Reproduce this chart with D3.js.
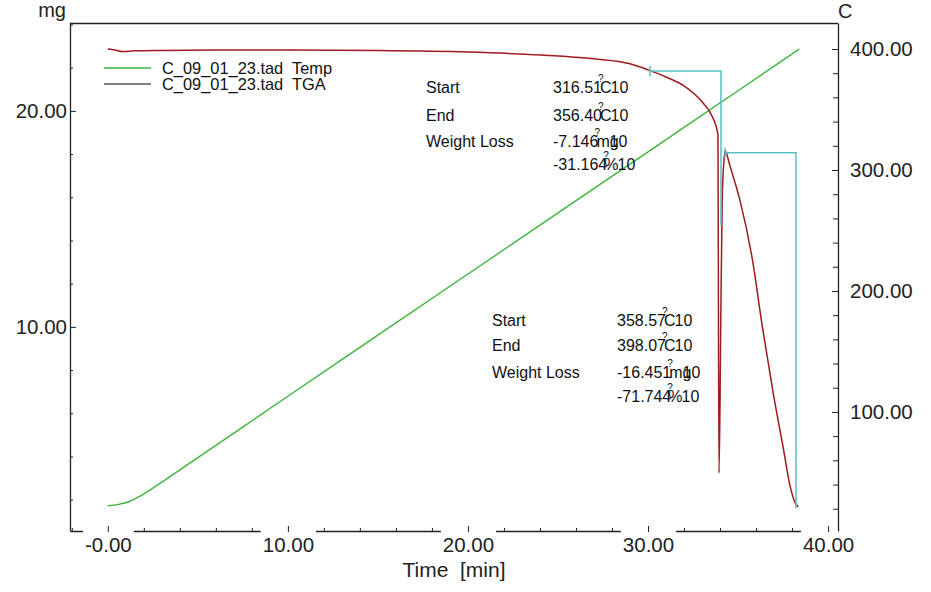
<!DOCTYPE html>
<html>
<head>
<meta charset="utf-8">
<script src="https://cdn.jsdelivr.net/npm/d3@7"></script>
<style>
body { margin: 0; background: #fff; }
svg { display: block; font-family: "Liberation Sans", Arial, sans-serif; }
text { white-space: pre; }
</style>
</head>
<body>
<svg id="chart" width="931" height="592"></svg>
<script>
// tick values + labels
var timeTicks = [0, 10, 20, 30, 40];
var timeTickLabels = ["-0.00", "10.00", "20.00", "30.00", "40.00"];
var massTicks = [10, 20];
var massTickLabels = ["10.00", "20.00"];
var tempTicks = [100, 200, 300, 400];
var tempTickLabels = ["100.00", "200.00", "300.00", "400.00"];

// Temp curve (min, C)
var tempTime = [0, 0.6, 1.2, 1.8, 2.4, 3, 5, 10, 15, 20, 25, 30, 35, 38.4];
var tempValues = [22.5, 23.6, 26, 30.5, 36, 42, 62.2, 113, 163.5, 214, 264.5, 315, 365.5, 400];

// TGA curve (min, mg)
var tgaTime = [0, 0.4, 0.8, 1.5, 3, 6, 10, 15, 20, 24, 27, 29, 30, 31, 32, 33, 33.6, 33.88,
  33.94, 34.0, 34.05, 34.12, 34.22, 34.28, 34.55, 35.1, 35.8, 36.35, 36.95, 37.5, 37.9, 38.17, 38.35];
var tgaValues = [22.87, 22.82, 22.75, 22.78, 22.80, 22.82, 22.82, 22.80, 22.73, 22.59, 22.41, 22.18, 21.90, 21.57, 21.16, 20.42, 19.68, 18.94,
  3.24, 6.62, 11.25, 15.88, 17.73, 18.15, 17.45, 15.88, 13.10, 10.0, 6.94, 4.44, 2.59, 1.85, 1.67];

var legendLabels = ["C_09_01_23.tad  Temp", "C_09_01_23.tad  TGA"];

// weight loss steps
var stepStart = [30.11, 34.28];
var stepEnd = [34.05, 38.22];
var stepTop = [21.85, 18.06];
var stepLoss = [7.146, 16.451];
var stepRowLabels = ["Start", "End", "Weight Loss"];
var stepStartTemp = ["316.51", "358.57"];
var stepEndTemp = ["356.40", "398.07"];
var stepLossMg = ["-7.146", "-16.451"];
var stepLossPct = ["-31.164", "-71.744"];

var svg = d3.select("#chart");
var axisColor = "#222";

var x = d3.scaleLinear().domain([-2.1, 40.55]).range([70, 838]);
var yMass = d3.scaleLinear().domain([0.55, 24.07]).range([531, 23]);
var yTemp = d3.scaleLinear().domain([1.6, 421.5]).range([531, 23]);

function styleAxis(g, size) {
  g.attr("font-size", size).attr("font-family", null).attr("color", axisColor);
  g.select(".domain").attr("stroke-width", 1.3);
}

// top frame
svg.append("line")
  .attr("x1", x.range()[0]).attr("x2", x.range()[1])
  .attr("y1", 23.5).attr("y2", 23.5)
  .attr("stroke", axisColor).attr("stroke-width", 1.3);

// bottom axis
var gxMinor = svg.append("g").attr("transform", "translate(0,531)")
  .call(d3.axisBottom(x).tickValues(d3.range(-2, 40, 2).filter(function (v) { return v % 10 !== 0; }))
    .tickSize(-3).tickFormat(""));
gxMinor.select(".domain").remove();
gxMinor.attr("color", axisColor);

var gx = svg.append("g").attr("transform", "translate(0,531)")
  .call(d3.axisBottom(x).tickValues(timeTicks).tickSizeInner(-5).tickSizeOuter(0).tickPadding(6)
    .tickFormat(function (d, i) { return timeTickLabels[i]; }));
styleAxis(gx, 20.5);
gx.selectAll(".tick line").attr("y1", 1);
gx.selectAll(".tick").each(function () {
  var t = d3.select(this);
  var w = t.select("text").node().getBBox().width;
  t.insert("rect", "line").attr("x", -w / 2 - 2).attr("y", -1.5).attr("width", w + 4).attr("height", 3.5).attr("fill", "#fff");
});

// left axis (mg)
var gyMinor = svg.append("g").attr("transform", "translate(70,0)")
  .call(d3.axisLeft(yMass).tickValues(d3.range(2, 25, 2).filter(function (v) { return v % 10 !== 0; }))
    .tickSize(-3).tickFormat(""));
gyMinor.select(".domain").remove();
gyMinor.attr("color", axisColor);

var gy = svg.append("g").attr("transform", "translate(70,0)")
  .call(d3.axisLeft(yMass).tickValues(massTicks).tickSizeInner(-6).tickSizeOuter(0).tickPadding(3)
    .tickFormat(function (d, i) { return massTickLabels[i]; }));
styleAxis(gy, 20.5);

// right axis (C)
var grMinor = svg.append("g").attr("transform", "translate(838,0)")
  .call(d3.axisRight(yTemp).tickValues(d3.range(20, 401, 20).filter(function (v) { return v % 100 !== 0; }))
    .tickSize(-5).tickFormat(""));
grMinor.select(".domain").remove();
grMinor.attr("color", axisColor);

var gr = svg.append("g").attr("transform", "translate(838,0)")
  .call(d3.axisRight(yTemp).tickValues(tempTicks).tickSizeInner(-6).tickSizeOuter(0).tickPadding(12)
    .tickFormat(function (d, i) { return tempTickLabels[i]; }));
styleAxis(gr, 20.5);

// units + title
svg.append("text").attr("x", 66).attr("y", 17).attr("text-anchor", "end").attr("font-size", 20).attr("fill", axisColor).text("mg");
svg.append("text").attr("x", 838).attr("y", 18).attr("font-size", 20).attr("fill", axisColor).text("C");
svg.append("text").attr("x", 454).attr("y", 577).attr("text-anchor", "middle").attr("font-size", 21).attr("fill", axisColor).text("Time  [min]");

// curves
var tempLine = d3.line()
  .x(function (d, i) { return x(tempTime[i]); })
  .y(function (d) { return yTemp(d); })
  .curve(d3.curveMonotoneX);
svg.append("path").datum(tempValues).attr("d", tempLine)
  .attr("fill", "none").attr("stroke", "#3db53d").attr("stroke-width", 1.4);

var tgaLine = d3.line()
  .x(function (d, i) { return x(tgaTime[i]); })
  .y(function (d) { return yMass(d); })
  .curve(d3.curveMonotoneX);
svg.append("path").datum(tgaValues).attr("d", tgaLine)
  .attr("fill", "none").attr("stroke", "#9e1b1e").attr("stroke-width", 1.5);

// step markers
var steps = svg.append("g").attr("fill", "none").attr("stroke", "#55c2c2").attr("stroke-width", 1.5);
stepStart.forEach(function (s, i) {
  var top = yMass(stepTop[i]);
  var bottom = yMass(stepTop[i] - stepLoss[i]);
  steps.append("path").attr("d",
    "M" + x(s) + "," + (top - 5) + "V" + (top + 5) +
    "M" + x(s) + "," + top + "H" + x(stepEnd[i]) + "V" + bottom);
});

// annotation text
var blocks = [
  { lx: 426, vx: 553, rows: [93, 121, 147, 170] },
  { lx: 492, vx: 617, rows: [326, 351, 378, 402] }
];
var ann = svg.append("g").attr("font-size", 16).attr("fill", "#111");
function valueText(vx, yb, num, unit) {
  var t = ann.append("text").attr("x", vx).attr("y", yb);
  var n = t.append("tspan").text(num);
  var w = n.node().getComputedTextLength();
  t.append("tspan").attr("dx", unit === "%" ? -3 : -2).text(unit);
  t.append("tspan").attr("dx", unit === "mg" ? -9 : -1).text("10");
  ann.append("text").attr("x", vx + w - 4).attr("y", yb - 11).attr("font-size", 10).text("?");
}
blocks.forEach(function (b, i) {
  stepRowLabels.forEach(function (lab, j) {
    ann.append("text").attr("x", b.lx).attr("y", b.rows[j]).text(lab);
  });
  valueText(b.vx, b.rows[0], stepStartTemp[i], "C");
  valueText(b.vx, b.rows[1], stepEndTemp[i], "C");
  valueText(b.vx, b.rows[2], stepLossMg[i], "mg");
  valueText(b.vx, b.rows[3], stepLossPct[i], "%");
});

// legend
var legendColors = ["#3cb43c", "#555"];
var lg = svg.append("g");
legendLabels.forEach(function (lab, i) {
  var yy = 68 + i * 16;
  lg.append("line").attr("x1", 104).attr("x2", 151).attr("y1", yy).attr("y2", yy)
    .attr("stroke", legendColors[i]).attr("stroke-width", 1.3);
  lg.append("text").attr("x", 162).attr("y", yy + 6).attr("font-size", 16.4).attr("fill", "#111").text(lab);
});
</script>
</body>
</html>
